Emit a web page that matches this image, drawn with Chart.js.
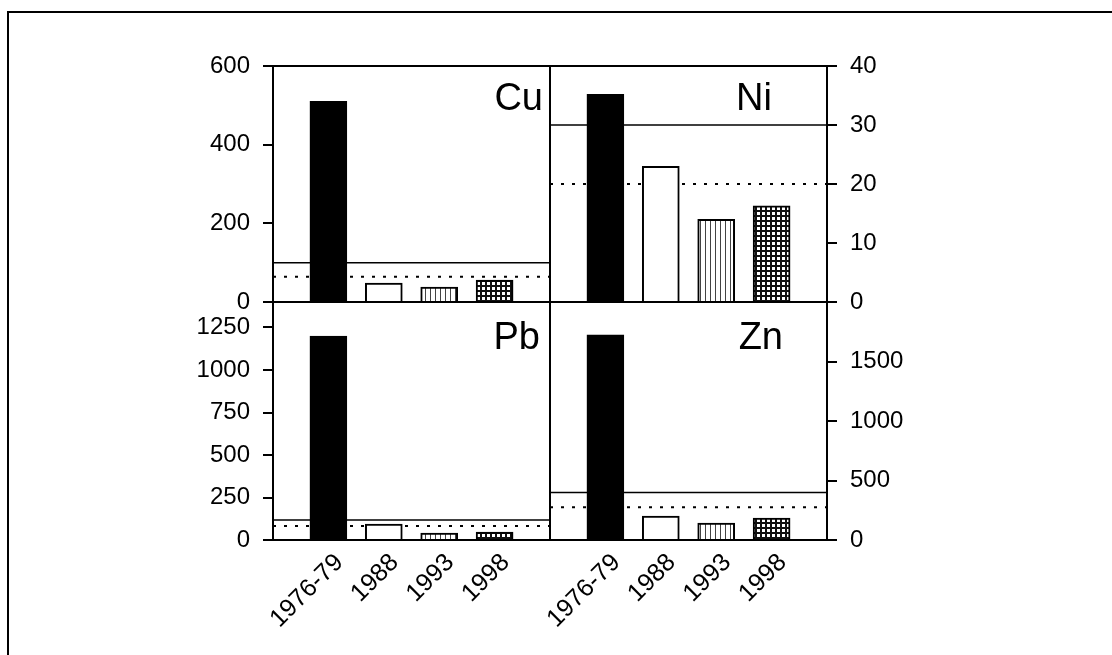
<!DOCTYPE html>
<html>
<head>
<meta charset="utf-8">
<script src="https://cdn.jsdelivr.net/npm/chart.js@4/dist/chart.umd.min.js"></script>
<style>
  body { margin: 0; width: 1112px; height: 655px; overflow: hidden; background: #fff; position: relative; }
  #frame { position: absolute; left: 7px; top: 11px; width: 1200px; height: 700px; border: 2px solid #000; }
  canvas { position: absolute; }
</style>
</head>
<body>
<div id="frame"></div>
<canvas id="cuChart" width="410" height="280" style="left:150px;top:40px"></canvas>
<canvas id="niChart" width="407" height="280" style="left:540px;top:40px"></canvas>
<canvas id="pbChart" width="410" height="358" style="left:150px;top:292px"></canvas>
<canvas id="znChart" width="407" height="358" style="left:540px;top:292px"></canvas>
<script>
// data
const years = ["1976-79", "1988", "1993", "1998"];
const yearPos = [1, 2, 3, 4];
const xRange = [0, 5];

const cu = [510, 48, 38, 56];
const ni = [35.2, 23, 14, 16.3];
const pb = [1200, 94, 41, 47];
const zn = [1725, 200, 142, 184];

// solid and dotted reference levels
const cuLimits = [100, 64];
const niLimits = [30, 20];
const pbLimits = [118, 82];
const znLimits = [400, 275];

const cuTicks = [0, 200, 400, 600];
const niTicks = [0, 10, 20, 30, 40];
const pbTicks = [0, 250, 500, 750, 1000, 1250];
const znTicks = [0, 500, 1000, 1500];

const cuMax = 600;
const niMax = 40;
const pbMax = 1400;
const znMax = 2000;

Chart.defaults.color = "#000";
Chart.defaults.font.family = "'Liberation Sans', Arial, sans-serif";
Chart.defaults.font.size = 24;

// ! bar fills
function makePattern(draw) {
  const c = document.createElement("canvas");
  c.width = 5;
  c.height = 5;
  const g = c.getContext("2d");
  g.fillStyle = "#fff";
  g.fillRect(0, 0, 5, 5);
  draw(g);
  return g.createPattern(c, "repeat");
}
const vertical = makePattern((g) => {
  g.fillStyle = "#444";
  g.fillRect(0, 0, 1, 5);
});
const grid = makePattern((g) => {
  g.fillStyle = "#111";
  g.fillRect(0, 0, 5, 2);
  g.fillRect(0, 0, 2, 5);
});
const fills = ["#000", "#fff", vertical, grid];

// ! plugins : box round the plot and the element name
const boxPlugin = {
  id: "box",
  afterDraw(chart) {
    const a = chart.chartArea;
    const ctx = chart.ctx;
    ctx.save();
    ctx.strokeStyle = "#000";
    ctx.lineWidth = 2;
    ctx.strokeRect(a.left, a.top, a.right - a.left, a.bottom - a.top);
    ctx.restore();
  },
};
const namePlugin = {
  id: "panelName",
  afterDraw(chart, args, opts) {
    const a = chart.chartArea;
    const ctx = chart.ctx;
    ctx.save();
    ctx.font = "38px 'Liberation Sans', Arial, sans-serif";
    ctx.fillStyle = "#000";
    ctx.textAlign = "right";
    ctx.textBaseline = "alphabetic";
    ctx.fillText(opts.text, a.right - opts.right, a.top + opts.down);
    ctx.restore();
  },
};

function panel(id, name, values, limits, ticks, max, opt) {
  const ctx = document.getElementById(id);
  const yOnRight = opt.side === "right";
  return new Chart(ctx, {
    type: "bar",
    data: {
      datasets: [
        {
          type: "bar",
          data: values.map((v, i) => ({ x: yearPos[i], y: v })),
          backgroundColor: fills,
          borderColor: "#000",
          borderWidth: 2,
          borderSkipped: "bottom",
          barThickness: 37,
          order: 1,
        },
        {
          type: "line",
          data: xRange.map((x) => ({ x: x, y: limits[0] })),
          borderColor: "#000",
          borderWidth: 1.5,
          pointRadius: 0,
          order: 2,
        },
        {
          type: "line",
          data: xRange.map((x) => ({ x: x, y: limits[1] })),
          borderColor: "#000",
          borderWidth: 2,
          borderDash: [3, 8],
          pointRadius: 0,
          order: 2,
        },
      ],
    },
    options: {
      responsive: false,
      animation: false,
      layout: { padding: opt.padding },
      plugins: {
        legend: { display: false },
        tooltip: { enabled: false },
        panelName: { text: name, right: opt.nameRight, down: opt.nameDown },
      },
      scales: {
        x: {
          type: "linear",
          min: xRange[0],
          max: xRange[1],
          offset: false,
          display: opt.showX,
          grid: { drawOnChartArea: false, drawTicks: false },
          border: { color: "#000", width: 2 },
          afterBuildTicks: (scale) => {
            scale.ticks = yearPos.map((v) => ({ value: v }));
          },
          afterFit: (scale) => {
            scale.height = opt.showX ? 110 : 0;
            scale.paddingLeft = 0;
            scale.paddingRight = 0;
          },
          ticks: {
            autoSkip: false,
            minRotation: 45,
            maxRotation: 45,
            padding: 8,
            labelOffset: 11,
            font: { size: 25 },
            callback: (value, index) => years[index],
          },
        },
        y: {
          position: opt.side,
          min: 0,
          max: max,
          grid: {
            drawOnChartArea: false,
            drawTicks: true,
            tickLength: 10,
            color: "#000",
            lineWidth: 2,
          },
          border: { color: "#000", width: 2 },
          afterBuildTicks: (scale) => {
            scale.ticks = ticks.map((v) => ({ value: v }));
          },
          afterFit: (scale) => {
            scale.width = yOnRight ? 120 : 123;
            scale.paddingTop = 0;
            scale.paddingBottom = 0;
          },
          ticks: { padding: 13, callback: (value) => String(value) },
        },
      },
    },
    plugins: [boxPlugin, namePlugin],
  });
}

// ! chart 1 : Cu
panel("cuChart", "Cu", cu, cuLimits, cuTicks, cuMax, {
  side: "left",
  showX: false,
  padding: { left: 0, top: 26, right: 10, bottom: 18 },
  nameRight: 7,
  nameDown: 44,
});

// ! chart 2 : Ni
panel("niChart", "Ni", ni, niLimits, niTicks, niMax, {
  side: "right",
  showX: false,
  padding: { left: 10, top: 26, right: 0, bottom: 18 },
  nameRight: 55,
  nameDown: 44,
});

// ! chart 3 : Pb
panel("pbChart", "Pb", pb, pbLimits, pbTicks, pbMax, {
  side: "left",
  showX: true,
  padding: { left: 0, top: 10, right: 10, bottom: 0 },
  nameRight: 10,
  nameDown: 47,
});

// ! chart 4 : Zn
panel("znChart", "Zn", zn, znLimits, znTicks, znMax, {
  side: "right",
  showX: true,
  padding: { left: 10, top: 10, right: 0, bottom: 0 },
  nameRight: 44,
  nameDown: 47,
});
</script>
</body>
</html>
